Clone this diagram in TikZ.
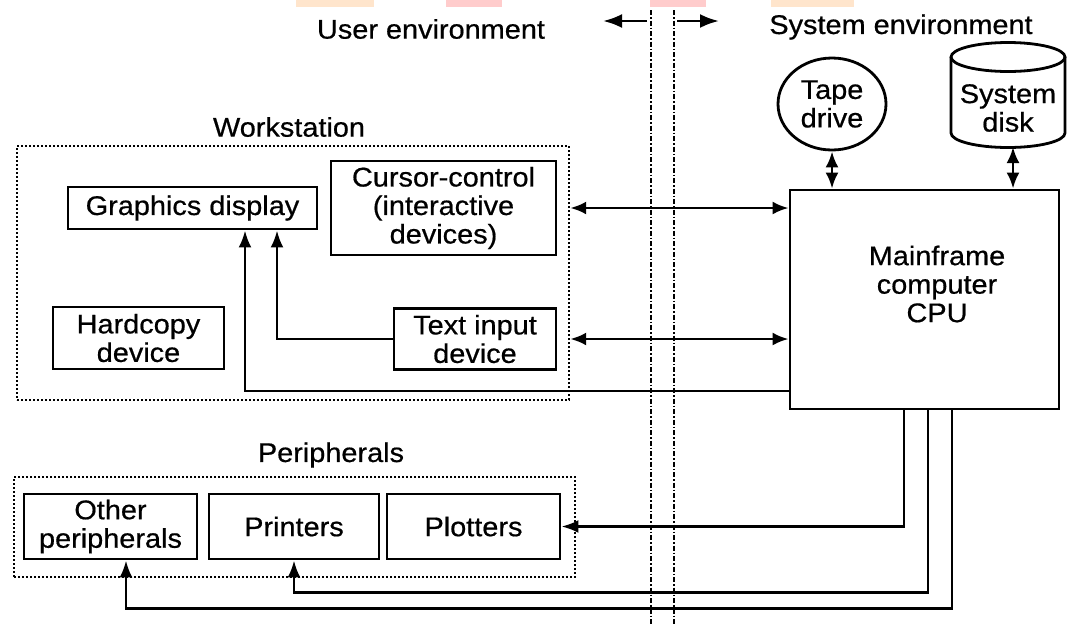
\documentclass[tikz,border=0pt]{standalone}
\usepackage{fontspec}
\setmainfont{Liberation Sans}[FakeStretch=1.07,FakeBold=0.6]
\usetikzlibrary{arrows.meta,shapes.geometric}
\tikzset{
  box/.style={draw, line width=2.8pt, align=center, inner sep=0pt},
  dotbox/.style={draw, line width=2.4pt, dash pattern=on 2pt off 2pt, inner sep=0pt},
  arr/.style={line width=2.8pt, -{Latex[length=17pt,width=13pt]}},
  dbl/.style={line width=2.8pt, {Latex[length=16pt,width=13pt]}-{Latex[length=16pt,width=13pt]}},
  bigarr/.style={line width=2.8pt, -{Latex[length=19pt,width=14pt]}},
  sep/.style={line width=2pt, dash pattern=on 5pt off 2pt on 1.5pt off 2pt},
  lbl/.style={align=center, inner sep=0pt},
  plain/.style={line width=2.8pt}
}
\begin{document}
\begin{tikzpicture}[x=1pt,y=-1pt,font=\fontsize{27}{28.5}\selectfont]
\fill[white] (0,0) rectangle (1067,625);
\useasboundingbox (0,0) rectangle (1067,625);
% watermark strips
\fill[orange!20] (296,0) rectangle (374,7);
\fill[red!20] (446,0) rectangle (502,7);
\fill[red!20] (650,0) rectangle (706,7);
\fill[orange!20] (771,0) rectangle (854,7);

% separators
\coordinate (v1t) at (651,10); \coordinate (v1b) at (651,625);
\coordinate (v2t) at (674,10); \coordinate (v2b) at (674,625);
\draw[sep] (v1t) -- (v1b);
\draw[sep] (v2t) -- (v2b);
\coordinate (la) at (647,21); \coordinate (lb) at (603,21);
\coordinate (ra) at (677,21); \coordinate (rb) at (719,21);
\draw[bigarr] (la) -- (lb);
\draw[bigarr] (ra) -- (rb);

\node[lbl] (usr) at (431,29) {User environment};
\node[lbl] (sys) at (901,27) {System environment};

% workstation
\node[dotbox, minimum width=552pt, minimum height=254pt] (ws) at (293,273) {};
\node[lbl] (wslbl) at (289,127) {Workstation};
\node[box, minimum width=249pt, minimum height=42pt] (gd) at (192.5,208) {Graphics display};
\node[box, minimum width=225pt, minimum height=94pt] (cc) at (443.5,208) {Cursor-control\\(interactive\\devices)};
\node[box, minimum width=171pt, minimum height=62pt] (hc) at (138.5,338) {Hardcopy\\device};
\node[box, minimum width=162pt, minimum height=61pt] (ti) at (475,339) {Text input\\device};

% CPU and storage
\node[box, minimum width=269pt, minimum height=219pt] (cpu) at (924.5,299.5) {};
\node[lbl] (cputxt) at (937,284) {Mainframe\\computer\\CPU};
\node[ellipse, draw, line width=2.8pt, minimum width=108pt, minimum height=92pt, inner sep=0pt, align=center] (tape) at (832,104) {Tape\\drive};

% system disk (cylinder)
\draw[line width=2.8pt] (1008,57) ellipse [x radius=57, y radius=14.5];
\draw[line width=2.8pt] (951,57) -- (951,133) arc [start angle=180, end angle=0, x radius=57, y radius=14.5] -- (1065,57);
\node[lbl] (disk) at (1008,108) {System\\disk};
\coordinate (diskb) at (1013,147);

% peripherals
\node[dotbox, minimum width=561pt, minimum height=100pt] (per) at (294.5,527) {};
\node[lbl] (perlbl) at (331,455) {Peripherals};
\node[box, minimum width=173pt, minimum height=65pt] (op) at (110.5,526.5) {Other\\peripherals};
\node[box, minimum width=170pt, minimum height=65pt] (pr) at (294,526.5) {Printers};
\node[box, minimum width=173pt, minimum height=65pt] (pl) at (473.5,526.5) {Plotters};

% connectors
\draw[dbl] (tape.south) -- (tape.south |- cpu.north);
\draw[dbl] (diskb) -- (diskb |- cpu.north);
\draw[dbl] (ws.east |- cc.center) -- (cpu.west |- cc.center);
\draw[dbl] (ws.east |- ti.center) -- (cpu.west |- ti.center);
\draw[arr] (ti.west) -| ([xshift=84.5pt]gd.south);
\draw[arr] ([yshift=-91.5pt]cpu.west) -| ([xshift=52.5pt]gd.south);
\draw[arr] ([xshift=-20.5pt]cpu.south) |- (pl.east);
\draw[arr] ([xshift=3.5pt]cpu.south) -- ++(0,182) -| (pr.south);
\draw[arr] ([xshift=27.5pt]cpu.south) -- ++(0,198) -| ([xshift=15.5pt]op.south);
\end{tikzpicture}
\end{document}
